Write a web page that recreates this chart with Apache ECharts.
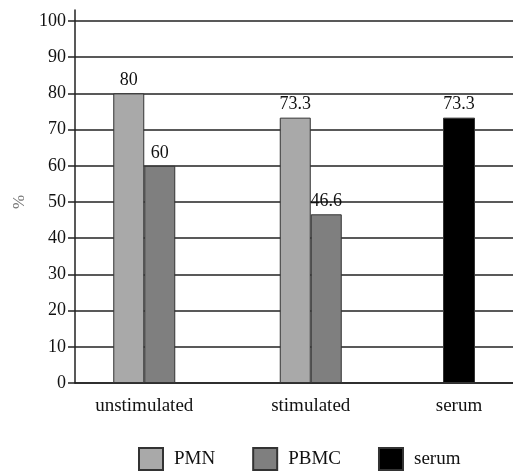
<!DOCTYPE html>
<html>
<head>
<meta charset="utf-8">
<script src="https://cdn.jsdelivr.net/npm/echarts@6/dist/echarts.min.js"></script>
<style>html,body{margin:0;padding:0;background:#fff}#c{width:513px;height:471px}</style>
</head>
<body>
<div id="c"></div>
<script>
const groupCategories = ['unstimulated', 'stimulated'];
const serumCategories = ['serum'];
const pmnValues = [80, 73.3];
const pbmcValues = [60, 46.6];
const serumValues = [73.3];
const yTicks = [0, 10, 20, 30, 40, 50, 60, 70, 80, 90, 100];
const yAxisTitle = '%';

const FONT = 'Liberation Serif';
const LINE = '#222';
const chart = echarts.init(document.getElementById('c'));
const hiddenY = (gi) => ({type:'value', gridIndex:gi, min:0, max:100, show:false});
const labelStyle = {show:true, position:'top', distance:4, fontFamily:FONT, fontSize:18, color:'#111'};
const catAxis = (gi, data) => ({
  type:'category', gridIndex:gi, data:data,
  axisLine:{show:false}, axisTick:{show:false}, splitLine:{show:false},
  axisLabel:{fontFamily:FONT, fontSize:19, color:'#111', margin:14}
});
chart.setOption({
  animation:false,
  backgroundColor:'#fff',
  grid:[
    {left:75, right:0, top:10, bottom:88},
    {left:75, right:0, top:21, bottom:88},
    {left:61, width:333, top:21, bottom:88},
    {left:409, width:100, top:21, bottom:88}
  ],
  xAxis:[
    {type:'value', gridIndex:0, min:0, max:1, axisLine:{show:true, lineStyle:{color:LINE, width:1.5}}, axisTick:{show:false}, axisLabel:{show:false}, splitLine:{show:false}},
    {type:'value', gridIndex:1, min:0, max:1, show:false},
    catAxis(2, groupCategories),
    catAxis(3, serumCategories)
  ],
  yAxis:[
    {type:'value', gridIndex:0, min:0, max:1, axisLine:{show:true, lineStyle:{color:LINE, width:1.5}}, axisTick:{show:false}, axisLabel:{show:false}, splitLine:{show:false}},
    {type:'value', gridIndex:1, min:yTicks[0], max:yTicks[yTicks.length-1], interval:10,
      name:yAxisTitle, nameLocation:'middle', nameRotate:90, nameGap:38,
      nameTextStyle:{fontFamily:FONT, fontSize:17, color:'#777'},
      axisLine:{show:false},
      axisTick:{show:true, inside:false, length:7, lineStyle:{color:LINE, width:1.5}},
      axisLabel:{fontFamily:FONT, fontSize:18, color:'#111', margin:9},
      splitLine:{show:true, lineStyle:{color:LINE, width:1.5}}},
    hiddenY(2),
    hiddenY(3)
  ],
  legend:{
    left:138, top:447, padding:0, itemWidth:24, itemHeight:22, itemGap:37,
    icon:'rect',
    textStyle:{fontFamily:FONT, fontSize:19, color:'#111', padding:[0,0,0,6]},
    data:['PMN','PBMC','serum']
  },
  series:[
    {name:'PMN', type:'bar', xAxisIndex:2, yAxisIndex:2, data:pmnValues, barWidth:31, barGap:'0%',
      itemStyle:{color:'#a9a9a9', borderColor:'#333', borderWidth:1}, label:labelStyle},
    {name:'PBMC', type:'bar', xAxisIndex:2, yAxisIndex:2, data:pbmcValues, barWidth:31, barGap:'0%',
      itemStyle:{color:'#7f7f7f', borderColor:'#333', borderWidth:1}, label:labelStyle},
    {name:'serum', type:'bar', xAxisIndex:3, yAxisIndex:3, data:serumValues, barWidth:32,
      itemStyle:{color:'#000', borderColor:'#333', borderWidth:1}, label:labelStyle}
  ]
});
</script>
</body>
</html>
